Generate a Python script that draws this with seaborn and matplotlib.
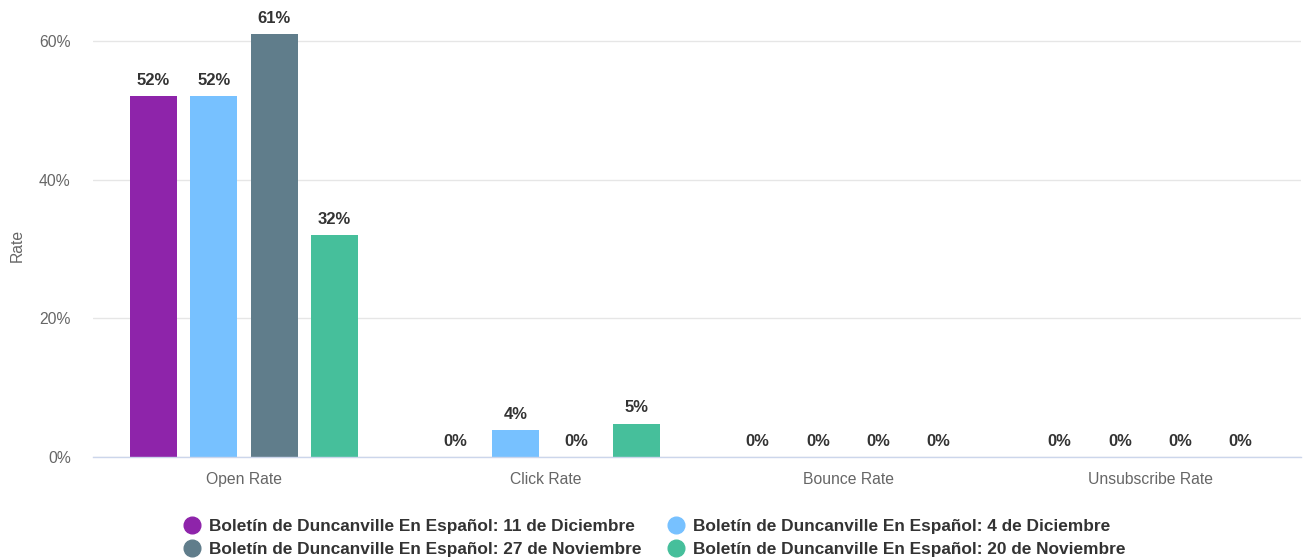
import matplotlib
matplotlib.use("Agg")
import matplotlib.pyplot as plt
from matplotlib.lines import Line2D
import seaborn as sns
import pandas as pd

categories = ["Open Rate", "Click Rate", "Bounce Rate", "Unsubscribe Rate"]
series_names = [
    "Boletín de Duncanville En Español: 11 de Diciembre",
    "Boletín de Duncanville En Español: 4 de Diciembre",
    "Boletín de Duncanville En Español: 27 de Noviembre",
    "Boletín de Duncanville En Español: 20 de Noviembre",
]
dic11 = [52.0, 0.0, 0.0, 0.0]
dic4 = [52.0, 3.9, 0.0, 0.0]
nov27 = [61.0, 0.0, 0.0, 0.0]
nov20 = [32.0, 4.8, 0.0, 0.0]
colors = ["#8E24AA", "#77C1FF", "#607D8B", "#46BF9B"]
y_ticks = [0, 20, 40, 60]

rows = []
for name, vals in zip(series_names, [dic11, dic4, nov27, nov20]):
    for c, v in zip(categories, vals):
        rows.append({"Category": c, "Series": name, "Rate": v})
df = pd.DataFrame(rows)

sns.set_theme(style="white")
plt.rcParams["font.family"] = ["Liberation Sans", "DejaVu Sans"]

fig = plt.figure(figsize=(13.09, 5.58), dpi=100)
ax = fig.add_axes([0.071, 0.181, 0.923, 0.758])

sns.barplot(data=df, x="Category", y="Rate", hue="Series", order=categories,
            hue_order=series_names, palette=colors, width=0.8, gap=0.22,
            saturation=1, linewidth=0, legend=False, ax=ax)

ax.set_xlim(-0.5, 3.5)
ax.set_ylim(0, 61)
ax.set_yticks(y_ticks)
ax.set_yticklabels([f"{t}%" for t in y_ticks])
ax.grid(axis="y", color="#e6e6e6", linewidth=1)
ax.set_axisbelow(True)
for s in ["top", "right", "left"]:
    ax.spines[s].set_visible(False)
ax.spines["bottom"].set_color("#ccd6eb")
ax.spines["bottom"].set_linewidth(1)
ax.tick_params(axis="both", length=0, labelsize=11.3, labelcolor="#666666")
ax.tick_params(axis="y", pad=16)
ax.tick_params(axis="x", pad=11)
ax.set_xlabel("")
ax.set_ylabel("Rate", fontsize=11.3, color="#666666", labelpad=10)

for cont in ax.containers:
    for bar in cont:
        h = bar.get_height()
        ax.annotate(f"{round(h)}%", (bar.get_x() + bar.get_width() / 2, h),
                    xytext=(0, 6), textcoords="offset points",
                    ha="center", va="bottom", fontsize=12, fontweight="bold",
                    color="#333333", annotation_clip=False)

handles = [Line2D([0], [0], marker="o", linestyle="", markersize=12,
                  markerfacecolor=c, markeredgecolor=c) for c in colors]
order = [0, 2, 1, 3]
fig.legend([handles[i] for i in order], [series_names[i] for i in order],
           ncol=2, loc="center", bbox_to_anchor=(0.5, 0.036), frameon=False,
           prop={"size": 12.4, "weight": "bold"}, labelcolor="#333333",
           handletextpad=0.5, columnspacing=1.5, labelspacing=0.45,
           handlelength=1.0)

fig.savefig("out.png", dpi=100)
